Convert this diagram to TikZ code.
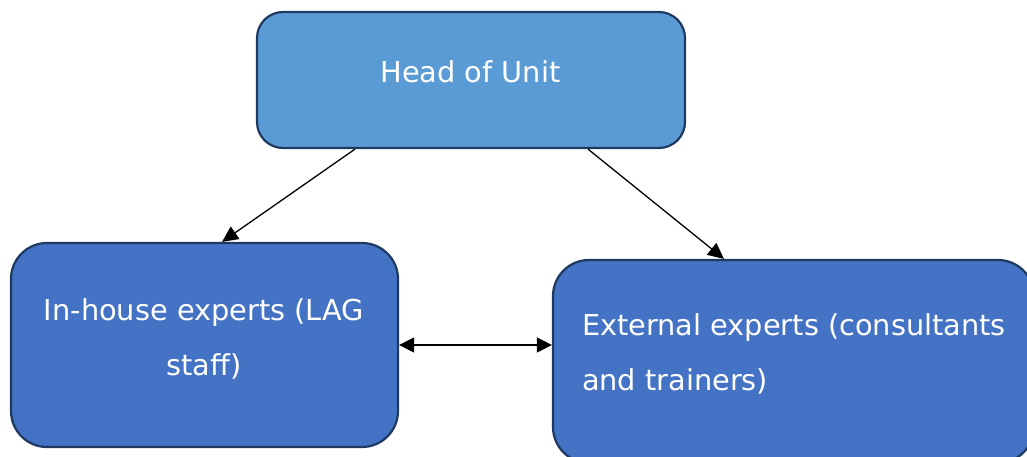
\documentclass[tikz,border=0pt]{standalone}
\usepackage{fontspec}
\setmainfont{DejaVu Sans}
\usetikzlibrary{arrows.meta}
\definecolor{headfill}{HTML}{5B9BD5}
\definecolor{boxfill}{HTML}{4472C4}
\definecolor{boxline}{HTML}{1F3A60}
\begin{document}
\begin{tikzpicture}[x=1pt,y=-1pt,
  box/.style={draw=boxline, line width=2.2pt, rectangle, rounded corners=#1, inner sep=0pt},
  txt/.style={text=white, font=\fontsize{28.8}{55}\selectfont, inner sep=0pt},
  conn/.style={draw=black, line width=1.3pt, -{Triangle[length=16pt,width=15pt]}},
  dconn/.style={draw=black, line width=1.3pt, {Triangle[length=15pt,width=15pt]}-{Triangle[length=15pt,width=15pt]}}]
\useasboundingbox (0,0) rectangle (1027,457);
\node[box=26pt, fill=headfill, minimum width=428pt, minimum height=136pt] (head) at (471,80) {};
\node[box=36pt, fill=boxfill, minimum width=387pt, minimum height=204pt] (inhouse) at (204.5,345) {};
\node[box=36pt, fill=boxfill, minimum width=481pt, minimum height=203pt] (external) at (793.5,361.5) {};
\node[txt] (headt) at (470.5,72) {Head of Unit};
\node[txt, align=center] (inhouset) at (204,338.5) {In-house experts (LAG\\staff)};
\node[txt, align=left] (externalt) at (794,353.5) {External experts (consultants\\and trainers)};
\draw[conn] ([xshift=-116pt]head.south) -- ([xshift=17.5pt]inhouse.north);
\draw[conn] ([xshift=117pt]head.south) -- ([xshift=-69.5pt]external.north);
\draw[dconn] (inhouse.east) -- (inhouse.east -| external.west);
\end{tikzpicture}
\end{document}
